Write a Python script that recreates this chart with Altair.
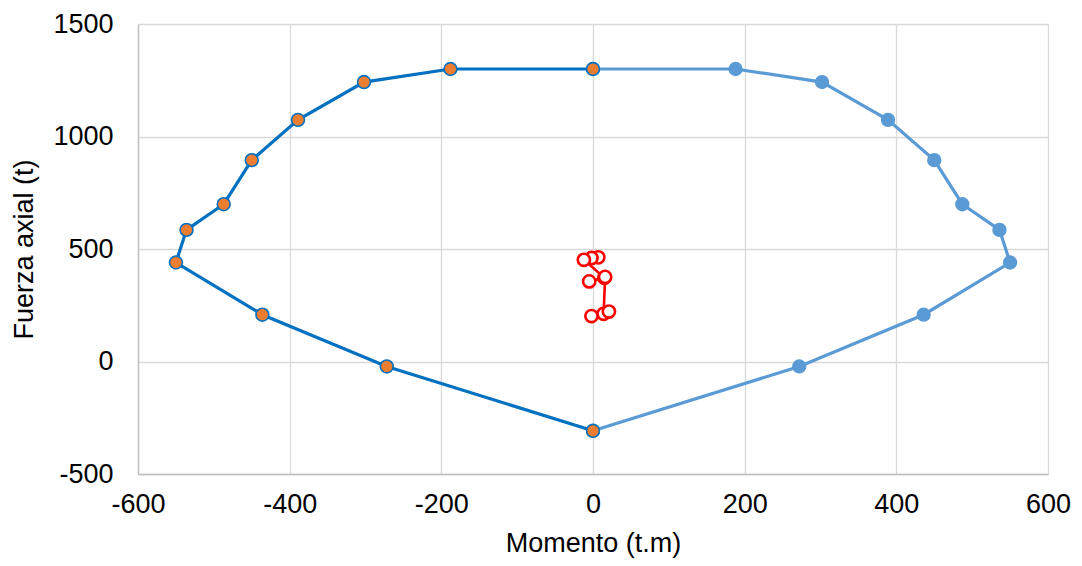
import altair as alt
import pandas as pd

# Interaction curve (positive moment side) and mirrored side
m_pos = [0, 188, 302, 389, 450, 487, 536, 550, 436, 272, 0]
p_curve = [1300, 1300, 1242, 1074, 895, 699, 585, 440, 208, -22, -308]
m_neg = [0, -188, -302, -389, -450, -487, -536, -550, -436, -272, 0]

# Load combinations (red)
red_m = [7, -2, -12, 15, -5, 16, 14, -2, 21]
red_p = [463, 460, 452, 372, 356, 376, 212, 202, 222]

x_ticks = [-600, -400, -200, 0, 200, 400, 600]
y_ticks = [-500, 0, 500, 1000, 1500]

df_pos = pd.DataFrame({"M": m_pos, "P": p_curve, "i": list(range(len(m_pos)))})
df_neg = pd.DataFrame({"M": m_neg, "P": p_curve, "i": list(range(len(m_neg)))})
df_red = pd.DataFrame({"M": red_m, "P": red_p, "i": list(range(len(red_m)))})

FONT = "Liberation Sans"

xs = alt.Scale(domain=[-600, 600], nice=False, zero=False)
ys = alt.Scale(domain=[-500, 1500], nice=False, zero=False)

xenc = alt.X("M:Q", scale=xs, title="Momento (t.m)",
             axis=alt.Axis(values=x_ticks, labelExpr="datum.value + ''", ticks=False,
                           labelPadding=17, titlePadding=13, labelFlush=False))
yenc = alt.Y("P:Q", scale=ys, title="Fuerza axial (t)",
             axis=alt.Axis(values=y_ticks, labelExpr="datum.value + ''", ticks=False,
                           labelPadding=25, titlePadding=14))

def series(df, line_color, fill, stroke, size, sw, lw):
    base = alt.Chart(df).encode(x=xenc, y=yenc, order="i:Q")
    line = base.mark_line(color=line_color, strokeWidth=lw)
    pts = base.mark_point(filled=False, fill=fill, stroke=stroke, size=size,
                          strokeWidth=sw, opacity=1, fillOpacity=1, shape="circle")
    return line, pts

l1, p1 = series(df_pos, "#5B9BD5", "#5B9BD5", "#5B9BD5", 165, 1.5, 3.2)
l2, p2 = series(df_neg, "#0070C0", "#ED7D31", "#0070C0", 165, 1.6, 3.2)
l3, p3 = series(df_red, "#FF0000", "#FFFFFF", "#FF0000", 150, 2.6, 2.6)

chart = alt.layer(l1, p1, l2, p2, l3, p3).properties(
    width=910, height=450,
    autosize=alt.AutoSizeParams(type="none"),
    padding={"left": 130, "top": 16, "right": 26, "bottom": 84},
).configure_view(stroke=None).configure_axis(
    gridColor="#D9D9D9", gridWidth=1.3, domainColor="#BFBFBF", domainWidth=1.3,
    labelFont=FONT, labelFontSize=27, labelColor="#000000",
    titleFont=FONT, titleFontSize=27, titleFontWeight="normal", titleColor="#000000",
)

chart.save("out.html", embed_options={"renderer": "svg", "actions": False})
